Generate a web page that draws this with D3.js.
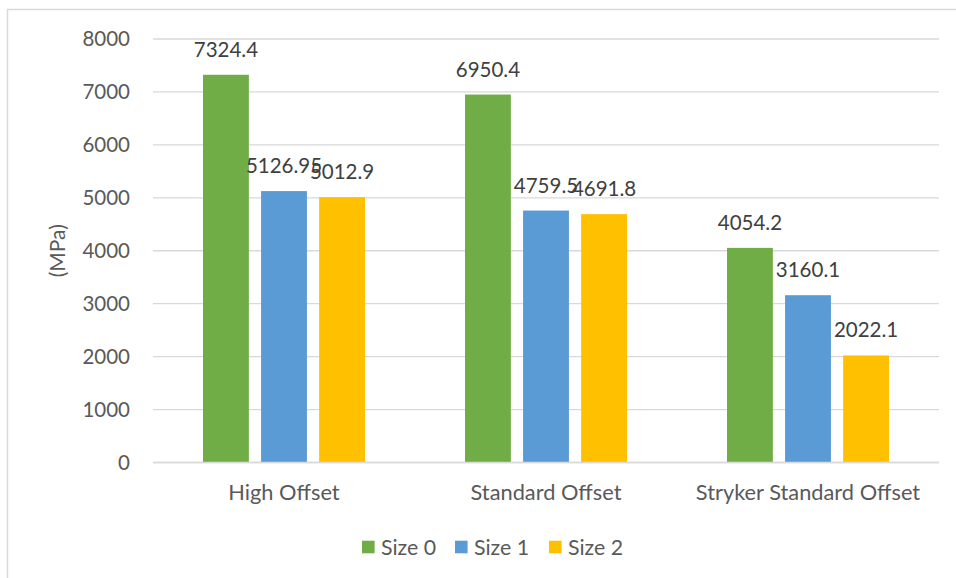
<!DOCTYPE html>
<html>
<head>
<meta charset="utf-8">
<script src="https://cdn.jsdelivr.net/npm/d3@7"></script>
<style>
  html, body { margin: 0; padding: 0; background: #fff; }
  svg { display: block; font-family: Lato, "Open Sans", sans-serif; }
</style>
</head>
<body>
<div id="chart"></div>
<script>
// Bar chart: stress (MPa) per implant offset type, three sizes each.

const categories = ['High Offset', 'Standard Offset', 'Stryker Standard Offset'];
const seriesNames = ['Size 0', 'Size 1', 'Size 2'];
const seriesColors = ['#70ad47', '#5b9bd5', '#ffc000'];
const size0 = [7324.4, 6950.4, 4054.2];
const size1 = [5126.95, 4759.5, 3160.1];
const size2 = [5012.9, 4691.8, 2022.1];
const yTicks = [0, 1000, 2000, 3000, 4000, 5000, 6000, 7000, 8000];
const yTitle = '(MPa)';

const seriesValues = [size0, size1, size2];

const width = 956, height = 578;
const plot = { left: 153, right: 939, top: 39, bottom: 462.5 };

const svg = d3.select('#chart').append('svg')
    .attr('width', width).attr('height', height);

// chart frame (runs off the right / bottom edge in the reference)
svg.append('rect')
    .attr('x', 7.5).attr('y', 9.5)
    .attr('width', 1000).attr('height', 700)
    .attr('fill', 'none').attr('stroke', '#d9d9d9').attr('stroke-width', 1.5);

const y = d3.scaleLinear().domain([0, 8000]).range([plot.bottom, plot.top]);

const x0 = d3.scaleBand().domain(categories).range([plot.left, plot.right]).padding(0);
const innerSpan = 162;
const innerOffset = (x0.bandwidth() - innerSpan) / 2;
const x1 = d3.scaleBand().domain(seriesNames)
    .range([innerOffset, innerOffset + innerSpan])
    .paddingInner(0.21).paddingOuter(0);

// gridlines
svg.append('g')
    .selectAll('line').data(yTicks).join('line')
    .attr('x1', plot.left).attr('x2', plot.right)
    .attr('y1', d => y(d)).attr('y2', d => y(d))
    .attr('stroke', '#d9d9d9').attr('stroke-width', 1.3);

// y axis labels
svg.append('g')
    .call(d3.axisLeft(y).tickValues(yTicks).tickSize(0).tickPadding(0).tickFormat(d => `${d}`))
    .attr('transform', `translate(130,0)`)
    .call(g => g.select('.domain').remove())
    .call(g => g.selectAll('text')
        .attr('font-family', 'Lato, sans-serif')
        .attr('font-size', '20.5px').attr('fill', '#595959'));

// y title
svg.append('text')
    .attr('transform', `translate(58,${(plot.top + plot.bottom) / 2}) rotate(-90)`)
    .attr('text-anchor', 'middle').attr('dy', '0.35em')
    .attr('font-size', '21px').attr('fill', '#595959')
    .text(yTitle);

// bars
const groups = svg.append('g')
    .selectAll('g').data(categories).join('g')
    .attr('transform', d => `translate(${x0(d)},0)`);

const cells = groups.selectAll('g')
    .data((c, ci) => seriesNames.map((s, si) => ({ s, si, v: seriesValues[si][ci] })))
    .join('g');

cells.append('rect')
    .attr('x', d => x1(d.s))
    .attr('y', d => y(d.v))
    .attr('width', x1.bandwidth())
    .attr('height', d => y(0) - y(d.v))
    .attr('fill', d => seriesColors[d.si]);

cells.append('text')
    .attr('x', d => x1(d.s) + x1.bandwidth() / 2)
    .attr('y', d => y(d.v) - 18)
    .attr('text-anchor', 'middle')
    .attr('font-size', '20.5px').attr('fill', '#404040')
    .text(d => `${d.v}`);

// category labels
svg.append('g')
    .call(d3.axisBottom(x0).tickSize(0).tickPadding(0))
    .attr('transform', `translate(0,${plot.bottom})`)
    .call(g => g.select('.domain').remove())
    .call(g => g.selectAll('text')
        .attr('dy', null).attr('y', 37)
        .attr('font-family', 'Lato, sans-serif')
        .attr('font-size', '21.8px').attr('fill', '#595959'));

// baseline
svg.append('line')
    .attr('x1', plot.left).attr('x2', plot.right)
    .attr('y1', y(0)).attr('y2', y(0))
    .attr('stroke', '#d9d9d9').attr('stroke-width', 1.5);

// legend
const legendX = [362, 455, 549];
const legend = svg.append('g').selectAll('g').data(seriesNames).join('g')
    .attr('transform', (d, i) => `translate(${legendX[i]},547)`);
legend.append('rect')
    .attr('x', 0).attr('y', -6.3).attr('width', 12.6).attr('height', 12.6)
    .attr('fill', (d, i) => seriesColors[i]);
legend.append('text')
    .attr('x', 19).attr('dy', '0.36em')
    .attr('font-size', '21.3px').attr('fill', '#595959')
    .text(d => d);
</script>
</body>
</html>
